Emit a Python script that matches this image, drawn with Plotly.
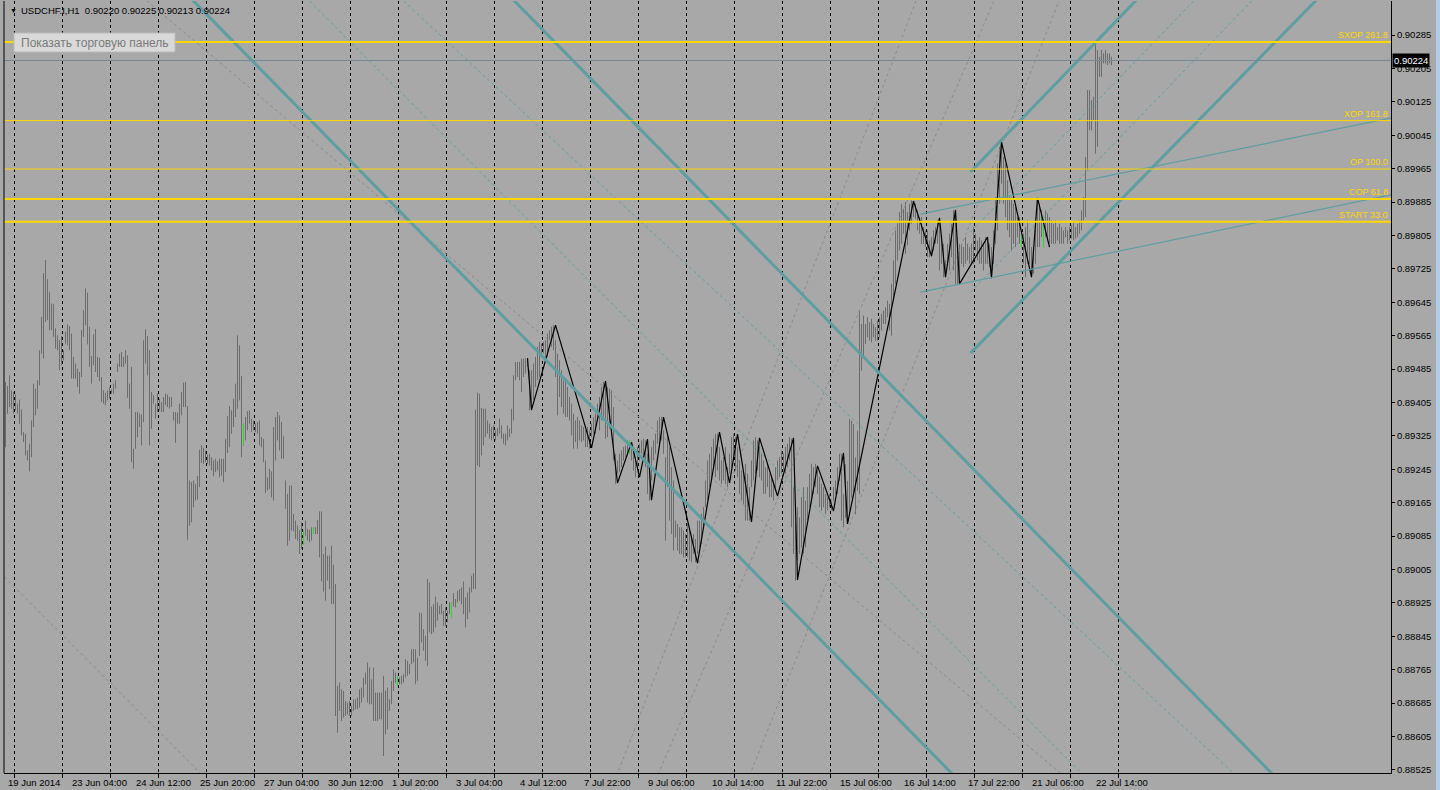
import plotly.graph_objects as go

# ---------------- DATA ----------------
bar_high = [
 0.89454,0.89444,0.89470,0.89434,0.89430,0.89424,0.89402,0.89412,0.89388,0.89334,
 0.89330,0.89290,0.89306,0.89362,0.89450,0.89438,0.89458,0.89530,0.89610,0.89714,
 0.89746,0.89700,0.89670,0.89642,0.89640,0.89582,0.89566,0.89554,0.89564,0.89530,
 0.89574,0.89592,0.89588,0.89570,0.89514,0.89498,0.89486,0.89478,0.89578,0.89626,
 0.89678,0.89668,0.89586,0.89516,0.89568,0.89581,0.89514,0.89512,0.89466,0.89434,
 0.89428,0.89434,0.89442,0.89436,0.89450,0.89458,0.89498,0.89522,0.89526,0.89514,
 0.89530,0.89518,0.89450,0.89490,0.89294,0.89382,0.89382,0.89378,0.89376,0.89554,
 0.89580,0.89564,0.89530,0.89430,0.89422,0.89402,0.89426,0.89414,0.89406,0.89418,
 0.89426,0.89424,0.89418,0.89418,0.89382,0.89382,0.89381,0.89402,0.89430,0.89452,
 0.89454,0.89396,0.89218,0.89214,0.89218,0.89210,0.89229,0.89292,0.89302,0.89296,
 0.89290,0.89280,0.89282,0.89274,0.89266,0.89270,0.89264,0.89270,0.89270,0.89270,
 0.89318,0.89372,0.89396,0.89386,0.89414,0.89450,0.89566,0.89542,0.89468,0.89354,
 0.89370,0.89384,0.89386,0.89366,0.89362,0.89354,0.89358,0.89362,0.89322,0.89318,
 0.89266,0.89226,0.89246,0.89240,0.89346,0.89370,0.89382,0.89374,0.89358,0.89324,
 0.89218,0.89186,0.89206,
 0.89206,0.89138,0.89122,0.89110,0.89100,0.89118,0.89098,0.89122,0.89102,0.89100,
 0.89106,0.89106,0.89106,0.89124,0.89144,0.89144,0.89042,0.89060,0.89038,0.89038,
 0.89062,0.89016,0.88970,0.88726,0.88734,0.88718,0.88714,0.88690,0.88686,0.88690,
 0.88678,0.88694,0.88694,0.88698,0.88718,0.88722,0.88746,0.88758,0.88782,0.88770,
 0.88742,0.88770,0.88710,0.88710,0.88710,0.88710,0.88750,0.88714,0.88722,0.88694,
 0.88738,0.88766,0.88758,0.88750,0.88746,0.88750,0.88754,0.88790,0.88786,0.88778,
 0.88814,0.88814,0.88814,0.88794,0.88902,0.88900,0.88862,0.88846,0.88982,0.88974,
 0.88916,0.88922,0.88940,0.88926,0.88918,0.88922,0.88906,0.88914,0.88906,0.88926,
 0.88926,0.88948,0.88934,0.88954,0.88958,0.88962,0.88976,0.88938,0.88950,0.88962,
 0.88990,0.88996,0.89388,0.89428,0.89426,0.89392,0.89390,0.89390,0.89362,0.89354,
 0.89346,0.89350,0.89338,0.89344,0.89366,0.89350,0.89330,0.89330,0.89350,0.89342,
 0.89390,0.89470,0.89502,0.89502,0.89502,0.89510,0.89510,0.89510,0.89510,0.89482,
 0.89482,0.89498,0.89514,0.89538,0.89550,0.89546,0.89550,0.89554,0.89570,0.89578,
 0.89586,0.89590,0.89554,
 0.89522,0.89506,0.89482,0.89458,0.89458,0.89442,0.89418,0.89402,0.89378,0.89362,
 0.89370,0.89362,0.89350,0.89346,0.89338,0.89346,0.89338,0.89354,0.89370,0.89378,
 0.89402,0.89418,0.89442,0.89454,0.89450,0.89442,0.89438,0.89434,0.89394,0.89282,
 0.89266,0.89282,0.89290,0.89298,0.89302,0.89314,0.89314,0.89306,0.89290,0.89274,
 0.89298,0.89306,0.89314,0.89318,0.89314,0.89282,0.89258,0.89298,0.89314,0.89330,
 0.89362,0.89370,0.89370,0.89338,0.89274,0.89330,0.89298,0.89250,0.89218,0.89122,
 0.89114,0.89106,0.89106,0.89098,0.89090,0.89114,0.89098,0.89082,0.89090,0.89078,
 0.89122,0.89122,0.89138,0.89154,0.89218,0.89266,0.89282,0.89298,0.89318,0.89330,
 0.89330,0.89298,0.89266,0.89274,0.89298,0.89250,0.89282,0.89322,0.89330,0.89322,
 0.89298,0.89266,0.89242,0.89234,0.89258,0.89234,0.89202,0.89266,0.89314,0.89322,
 0.89314,0.89298,0.89282,0.89266,0.89250,0.89258,0.89234,0.89226,0.89218,0.89250,
 0.89266,0.89274,0.89290,0.89282,0.89298,0.89306,0.89322,0.89318,0.89202,0.89114,
 0.89154,0.89130,0.89178,0.89202,0.89170,0.89202,0.89234,0.89258,0.89250,0.89258,
 0.89242,0.89226,0.89210,0.89202,0.89186,0.89178,0.89186,0.89170,0.89202,0.89218,
 0.89250,0.89282,0.89282,0.89186,
 0.89257,0.89217,0.89365,0.89361,0.89353,0.89273,0.89337,0.89625,0.89593,0.89613,
 0.89593,0.89609,0.89597,0.89605,0.89593,0.89585,0.89601,0.89609,0.89617,0.89625,
 0.89633,0.89649,0.89641,0.89689,0.89745,0.89817,0.89837,0.89861,0.89881,0.89869,
 0.89885,0.89861,0.89881,0.89889,0.89887,0.89881,0.89865,0.89849,0.89849,0.89825,
 0.89817,0.89817,0.89793,0.89801,0.89817,0.89825,0.89841,0.89841,0.89801,0.89785,
 0.89745,0.89785,0.89809,0.89833,0.89865,0.89849,0.89801,0.89785,0.89785,0.89777,
 0.89801,0.89785,0.89777,0.89785,0.89825,0.89809,0.89793,0.89801,0.89793,0.89785,
 0.89801,0.89801,0.89785,0.89777,0.89817,0.89897,0.89977,0.90017,0.90029,0.89993,
 0.89977,0.89937,0.89897,0.89897,0.89881,0.89873,0.89849,0.89849,0.89817,0.89809,
 0.89825,0.89841,0.89801,0.89777,0.89769,0.89833,0.89889,0.89881,0.89865,0.89849,
 0.89865,0.89857,0.89849,0.89841,0.89833,0.89841,0.89825,0.89833,0.89825,0.89817,
 0.89825,0.89817,0.89825,0.89829,0.89837,0.89825,0.89833,0.89841,0.89865,0.89897,
 0.89993,0.90153,0.90153,0.90129,0.90137,0.90265,0.90249,0.90233,0.90249,0.90241,
 0.90249,0.90241,0.90241,0.90233,
]
bar_low = [
 0.89298,0.89378,0.89394,0.89390,0.89378,0.89386,0.89378,0.89354,0.89326,0.89310,
 0.89278,0.89266,0.89240,0.89274,0.89346,0.89374,0.89390,0.89446,0.89522,0.89510,
 0.89598,0.89602,0.89578,0.89578,0.89562,0.89534,0.89530,0.89482,0.89494,0.89506,
 0.89546,0.89542,0.89530,0.89462,0.89462,0.89462,0.89442,0.89426,0.89466,0.89562,
 0.89590,0.89544,0.89490,0.89450,0.89494,0.89478,0.89466,0.89456,0.89406,0.89402,
 0.89398,0.89410,0.89414,0.89426,0.89426,0.89438,0.89478,0.89490,0.89490,0.89490,
 0.89498,0.89416,0.89390,0.89262,0.89246,0.89294,0.89322,0.89346,0.89302,0.89358,
 0.89498,0.89470,0.89302,0.89342,0.89402,0.89366,0.89382,0.89386,0.89382,0.89382,
 0.89398,0.89394,0.89390,0.89394,0.89362,0.89308,0.89354,0.89354,0.89374,0.89394,
 0.89394,0.89076,0.89110,0.89118,0.89154,0.89170,0.89172,0.89202,0.89260,0.89258,
 0.89262,0.89258,0.89254,0.89242,0.89228,0.89238,0.89242,0.89226,0.89230,0.89214,
 0.89238,0.89284,0.89298,0.89330,0.89346,0.89370,0.89390,0.89410,0.89274,0.89302,
 0.89314,0.89338,0.89354,0.89334,0.89338,0.89334,0.89330,0.89302,0.89298,0.89262,
 0.89188,0.89194,0.89198,0.89178,0.89170,0.89266,0.89314,0.89290,0.89270,0.89270,
 0.89150,0.89062,0.89074,
 0.89098,0.89096,0.89078,0.89074,0.89042,0.89054,0.89064,0.89086,0.89074,0.89070,
 0.89074,0.89090,0.89090,0.89090,0.89034,0.88976,0.88952,0.88930,0.88978,0.88958,
 0.88922,0.88922,0.88654,0.88614,0.88666,0.88642,0.88650,0.88654,0.88658,0.88654,
 0.88654,0.88666,0.88670,0.88670,0.88674,0.88686,0.88698,0.88730,0.88686,0.88682,
 0.88682,0.88642,0.88642,0.88642,0.88646,0.88646,0.88558,0.88610,0.88622,0.88666,
 0.88682,0.88714,0.88734,0.88726,0.88730,0.88730,0.88734,0.88746,0.88750,0.88754,
 0.88778,0.88782,0.88730,0.88738,0.88798,0.88830,0.88810,0.88786,0.88774,0.88854,
 0.88850,0.88854,0.88866,0.88882,0.88898,0.88898,0.88870,0.88870,0.88878,0.88898,
 0.88890,0.88916,0.88914,0.88926,0.88930,0.88922,0.88898,0.88866,0.88886,0.88902,
 0.88950,0.88958,0.88958,0.89254,0.89250,0.89278,0.89302,0.89322,0.89330,0.89318,
 0.89314,0.89318,0.89314,0.89324,0.89330,0.89318,0.89306,0.89302,0.89314,0.89322,
 0.89330,0.89362,0.89458,0.89466,0.89458,0.89430,0.89466,0.89474,0.89490,0.89386,
 0.89386,0.89410,0.89442,0.89458,0.89466,0.89514,0.89522,0.89506,0.89514,0.89554,
 0.89538,0.89530,0.89466,
 0.89374,0.89418,0.89394,0.89378,0.89370,0.89370,0.89362,0.89326,0.89294,0.89310,
 0.89294,0.89314,0.89310,0.89314,0.89298,0.89298,0.89294,0.89322,0.89330,0.89330,
 0.89362,0.89338,0.89362,0.89362,0.89318,0.89322,0.89342,0.89326,0.89266,0.89210,
 0.89234,0.89238,0.89250,0.89266,0.89274,0.89278,0.89282,0.89266,0.89242,0.89226,
 0.89250,0.89266,0.89282,0.89274,0.89250,0.89186,0.89170,0.89218,0.89266,0.89282,
 0.89306,0.89298,0.89314,0.89282,0.89074,0.89202,0.89122,0.89090,0.89050,0.89082,
 0.89050,0.89042,0.89042,0.89034,0.89034,0.89034,0.89026,0.89022,0.89042,0.89022,
 0.89042,0.89058,0.89066,0.89106,0.89154,0.89170,0.89202,0.89226,0.89250,0.89226,
 0.89242,0.89218,0.89210,0.89218,0.89210,0.89202,0.89234,0.89250,0.89266,0.89242,
 0.89226,0.89186,0.89170,0.89162,0.89122,0.89122,0.89122,0.89202,0.89218,0.89234,
 0.89242,0.89226,0.89218,0.89186,0.89186,0.89202,0.89178,0.89178,0.89170,0.89194,
 0.89218,0.89226,0.89234,0.89242,0.89234,0.89250,0.89266,0.89106,0.89042,0.88978,
 0.89026,0.89042,0.89058,0.89042,0.89058,0.89122,0.89154,0.89170,0.89186,0.89202,
 0.89186,0.89154,0.89146,0.89154,0.89138,0.89146,0.89154,0.89146,0.89170,0.89186,
 0.89186,0.89218,0.89122,0.89106,
 0.89129,0.89121,0.89137,0.89177,0.89185,0.89137,0.89193,0.89185,0.89481,0.89513,
 0.89545,0.89561,0.89553,0.89549,0.89561,0.89553,0.89553,0.89561,0.89577,0.89593,
 0.89593,0.89609,0.89577,0.89565,0.89657,0.89689,0.89745,0.89769,0.89785,0.89809,
 0.89761,0.89781,0.89817,0.89833,0.89849,0.89845,0.89817,0.89809,0.89785,0.89785,
 0.89777,0.89753,0.89753,0.89753,0.89769,0.89785,0.89785,0.89721,0.89737,0.89705,
 0.89705,0.89737,0.89721,0.89753,0.89721,0.89689,0.89689,0.89697,0.89737,0.89729,
 0.89737,0.89745,0.89737,0.89737,0.89737,0.89769,0.89745,0.89737,0.89737,0.89721,
 0.89737,0.89737,0.89729,0.89701,0.89737,0.89785,0.89817,0.89881,0.89929,0.89881,
 0.89849,0.89817,0.89801,0.89769,0.89785,0.89777,0.89801,0.89785,0.89777,0.89737,
 0.89705,0.89737,0.89737,0.89705,0.89713,0.89737,0.89777,0.89777,0.89801,0.89777,
 0.89801,0.89793,0.89785,0.89785,0.89785,0.89785,0.89793,0.89785,0.89785,0.89785,
 0.89801,0.89785,0.89793,0.89797,0.89793,0.89797,0.89801,0.89809,0.89817,0.89841,
 0.89849,0.89961,0.90057,0.90057,0.90081,0.90001,0.90017,0.90185,0.90185,0.90217,
 0.90217,0.90213,0.90217,0.90213,
]
green_bars = [119, 149, 154, 196, 223, 312, 508, 519]

zz_idx = [261, 263, 275, 293, 300, 306, 313, 317, 321, 323, 329, 346, 357, 362, 366,
          373, 377, 386, 394, 396, 406, 414, 419, 421, 454, 463, 467, 470, 475, 477,
          491, 493, 498, 513, 516, 522]
zz_price = [0.89511, 0.89387, 0.89590, 0.89296, 0.89456, 0.89212, 0.89310, 0.89226,
            0.89317, 0.89171, 0.89370, 0.89020, 0.89334, 0.89212, 0.89329, 0.89119,
            0.89320, 0.89181, 0.89320, 0.88980, 0.89253, 0.89145, 0.89284, 0.89114,
            0.89887, 0.89756, 0.89847, 0.89705, 0.89866, 0.89689, 0.89801, 0.89703,
            0.90029, 0.89705, 0.89895, 0.89777]

level_names = ["START 33.0", "COP 61.8", "OP 100.0", "XOP 161.8", "SXOP 261.8"]
level_prices = [0.89838, 0.89892, 0.89964, 0.90080, 0.90268]
level_thick = [True, True, False, False, True]

bid_price = 0.90224
header = "USDCHF.I,H1  0.90220 0.90225 0.90213 0.90224"

# trend objects: (bar index, price) anchor pairs
channel_thick = [((93.5, 0.90369), (473.0, 0.88517)),
                 ((254.0, 0.90369), (633.0, 0.88517))]
rays_thick = [((482.5, 0.89957), (565.5, 0.90369)),
              ((482.5, 0.89523), (655.5, 0.90369))]
rays_dashed_teal = [((482.5, 0.89813), (594.6, 0.90369)),
                    ((482.5, 0.89669), (623.6, 0.90369))]
lines_thin_teal = [((457.5, 0.89856), (692.5, 0.90086)),
                   ((457.5, 0.89669), (692.5, 0.89902))]
desc_dashed_teal = [((151.5, 0.90369), (538.0, 0.88517)),
                    ((198.5, 0.90369), (614.0, 0.88517))]
gray_dashed = [((2.5, 0.88972), (97.5, 0.88517)),
               ((341.5, 0.88956), (455.5, 0.90369)),
               ((326.5, 0.88517), (494.5, 0.90369)),
               ((372.5, 0.88517), (527.0, 0.90369)),
               ((366.0, 0.89171), (527.5, 0.88517))]

time_labels = ["19 Jun 2014", "23 Jun 04:00", "24 Jun 12:00", "25 Jun 20:00",
               "27 Jun 04:00", "30 Jun 12:00", "1 Jul 20:00", "3 Jul 04:00",
               "4 Jul 12:00", "7 Jul 22:00", "9 Jul 06:00", "10 Jul 14:00",
               "11 Jul 22:00", "15 Jul 06:00", "16 Jul 14:00", "17 Jul 22:00",
               "21 Jul 06:00", "22 Jul 14:00"]
label_step = 32            # bars between time labels
day_starts = [5 + 24 * k for k in range(24)]   # first bar of each trading day

price_ticks = [round(0.88525 + 0.0008 * k, 5) for k in range(23)]

# ---------------- LAYOUT CONSTANTS ----------------
W, H = 1440, 790
ML, MR, MT, MB = 4, 49, 1, 17
X0 = -0.75
X1 = X0 + (W - ML - MR) / 2.0     # 2 px per bar
Y0, Y1 = 0.885174, 0.903665
BG = "#A8A8A8"
TEAL = "#5F9EA0"
FONT = "Liberation Sans"

def px(xp):
    return (xp - ML) / (W - ML - MR)

def py(yp):
    return 1 - (yp - MT) / (H - MT - MB)

def extend(a, b, t0=-60, t1=760):
    (xa, ya), (xb, yb) = a, b
    s = (yb - ya) / (xb - xa)
    return [t0, t1], [ya + s * (t0 - xa), ya + s * (t1 - xa)]

def ray(a, b, t1=760):
    (xa, ya), (xb, yb) = a, b
    s = (yb - ya) / (xb - xa)
    return [xa, t1], [ya, ya + s * (t1 - xa)]

fig = go.Figure()

# price bars (high-low)
bx, byy = [], []
for i, (h, l) in enumerate(zip(bar_high, bar_low)):
    bx += [i, i, None]
    byy += [l, h, None]
fig.add_trace(go.Scatter(x=bx, y=byy, mode="lines",
                         line=dict(color="#6C6C6C", width=1), hoverinfo="skip"))
gx, gy = [], []
for i in green_bars:
    gx += [i, i, None]
    gy += [bar_low[i], bar_high[i], None]
fig.add_trace(go.Scatter(x=gx, y=gy, mode="lines",
                         line=dict(color="#22DD22", width=1), hoverinfo="skip"))

# faint dashed lines
for a, b in gray_dashed:
    xs, ys = extend(a, b)
    fig.add_trace(go.Scatter(x=xs, y=ys, mode="lines",
                             line=dict(color="#8A8A8A", width=1, dash="3px,3px")))
for a, b in desc_dashed_teal:
    xs, ys = extend(a, b)
    fig.add_trace(go.Scatter(x=xs, y=ys, mode="lines",
                             line=dict(color=TEAL, width=1, dash="3px,3px")))
for a, b in rays_dashed_teal:
    xs, ys = ray(a, b)
    fig.add_trace(go.Scatter(x=xs, y=ys, mode="lines",
                             line=dict(color=TEAL, width=1, dash="3px,3px")))

# zigzag
fig.add_trace(go.Scatter(x=zz_idx, y=zz_price, mode="lines",
                         line=dict(color="black", width=1.2)))

# teal objects
for a, b in lines_thin_teal:
    fig.add_trace(go.Scatter(x=[a[0], b[0]], y=[a[1], b[1]], mode="lines",
                             line=dict(color=TEAL, width=1.2)))
for a, b in channel_thick:
    xs, ys = extend(a, b)
    fig.add_trace(go.Scatter(x=xs, y=ys, mode="lines",
                             line=dict(color=TEAL, width=3)))
for a, b in rays_thick:
    xs, ys = ray(a, b)
    fig.add_trace(go.Scatter(x=xs, y=ys, mode="lines",
                             line=dict(color=TEAL, width=3)))

shapes = []
annotations = []

# bid line
shapes.append(dict(type="line", xref="paper", x0=0, x1=1, yref="y",
                   y0=bid_price, y1=bid_price, line=dict(color="#778899", width=1)))
# level lines + labels
for name, p, thick in zip(level_names, level_prices, level_thick):
    shapes.append(dict(type="line", xref="paper", x0=0, x1=1, yref="y", y0=p, y1=p,
                       line=dict(color="#FFD700", width=2 if thick else 1)))
    annotations.append(dict(xref="paper", x=1, xanchor="right", xshift=-1,
                            yref="y", y=p, yanchor="bottom", yshift=0,
                            text=name, showarrow=False,
                            font=dict(family=FONT, size=9, color="#FFD700")))

# left border
shapes.append(dict(type="line", xref="paper", x0=0, x1=0, yref="paper", y0=0, y1=1,
                   line=dict(color="black", width=1)))
# window edge on the right
shapes.append(dict(type="line", xref="paper", x0=px(1438), x1=px(1438), yref="paper",
                   y0=py(790), y1=py(0), line=dict(color="#B4CDE6", width=4)))
# trade panel button (rounded box drawn as a path)
bx0, bx1, by0, by1, r = px(14), px(175), py(33), py(52), 0.0025
shapes.append(dict(type="rect", xref="paper", yref="paper",
                   x0=bx0, x1=bx1, y0=by1, y1=by0,
                   fillcolor="#D9D9D9", line=dict(color="#BABABA", width=1), layer="above"))

# time labels
for k, t in enumerate(time_labels):
    annotations.append(dict(xref="x", x=k * label_step, xanchor="left",
                            yref="paper", y=0, yanchor="top", yshift=-2,
                            text=t, showarrow=False,
                            font=dict(family=FONT, size=9.5, color="black")))

# current price box
annotations.append(dict(xref="paper", x=1, xanchor="left", xshift=1,
                        yref="y", y=bid_price, yanchor="middle",
                        text="0.90224", showarrow=False, bgcolor="black",
                        borderpad=1, font=dict(family=FONT, size=9.5, color="white")))

# header
annotations.append(dict(xref="paper", x=px(8), xanchor="left", yref="paper",
                        y=py(10), yanchor="middle", text="\u25BC", showarrow=False,
                        font=dict(family=FONT, size=7, color="black")))
annotations.append(dict(xref="paper", x=px(19), xanchor="left", yref="paper",
                        y=py(10), yanchor="middle", text=header, showarrow=False,
                        font=dict(family=FONT, size=9.5, color="black")))
# trade panel button text
annotations.append(dict(xref="paper", x=px(19), xanchor="left", yref="paper",
                        y=py(43), yanchor="middle",
                        text="Показать торговую панель", showarrow=False,
                        font=dict(family=FONT, size=12, color="#7A7A7A")))

fig.update_layout(
    width=W, height=H, autosize=False,
    paper_bgcolor=BG, plot_bgcolor=BG,
    margin=dict(l=ML, r=MR, t=MT, b=MB, pad=0),
    showlegend=False,
    shapes=shapes, annotations=annotations,
    xaxis=dict(range=[X0, X1], tickvals=[d - 0.5 for d in day_starts],
               showticklabels=False, ticks="outside", ticklen=4, tickcolor="black",
               showgrid=True, gridcolor="black", gridwidth=1, griddash="3px,3px",
               showline=True, linecolor="black", linewidth=1, zeroline=False,
               fixedrange=True),
    yaxis=dict(range=[Y0, Y1], side="right", tickvals=price_ticks,
               tickformat=".5f", ticks="outside", ticklen=3, tickcolor="black",
               showgrid=False, showline=True, linecolor="black", linewidth=1,
               zeroline=False, tickfont=dict(family=FONT, size=9.5, color="black"),
               fixedrange=True),
    hovermode=False,
)

fig.write_html("out.html", post_script="document.body.style.margin='0';document.body.style.overflow='hidden';",
               config={"displayModeBar": False})
